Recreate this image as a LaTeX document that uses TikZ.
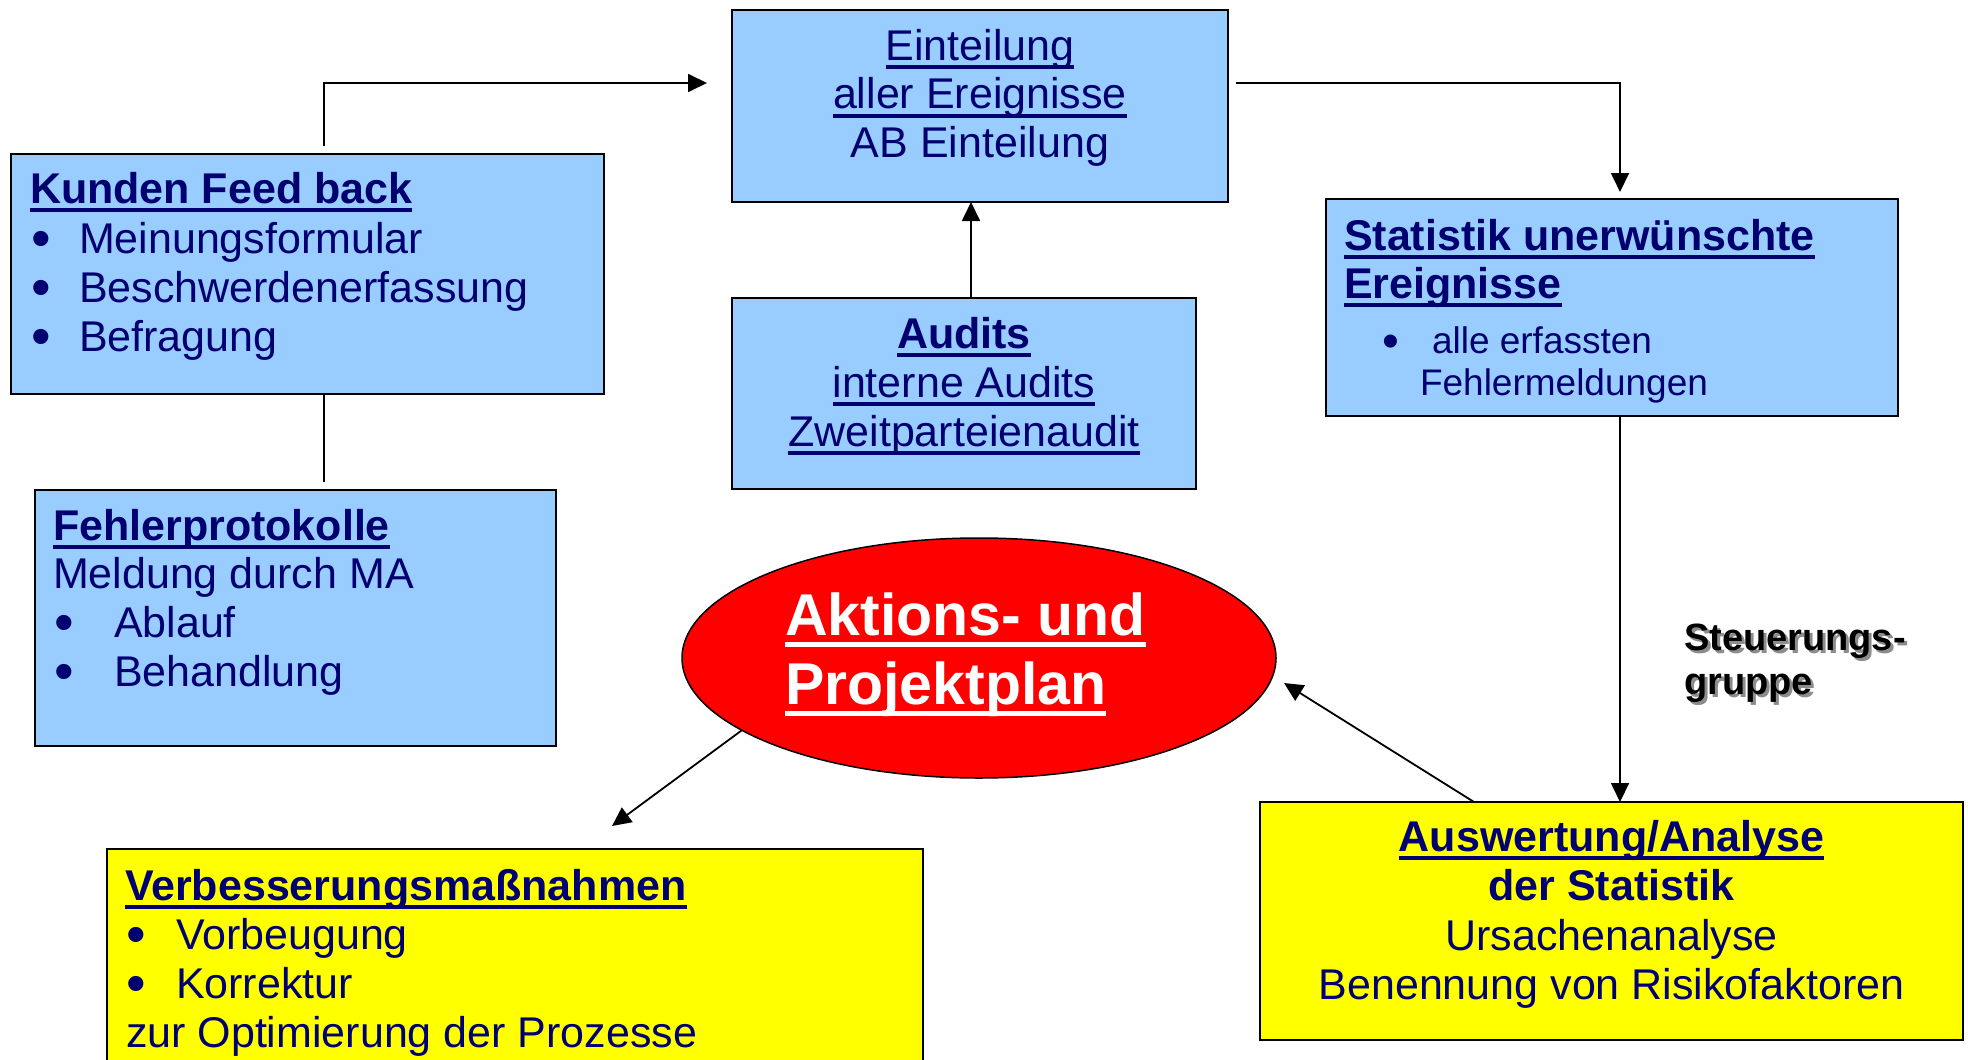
\documentclass[tikz,border=0pt]{standalone}
\usepackage{fontspec}
\setmainfont{Liberation Sans}
\usetikzlibrary{arrows.meta,shapes.geometric}
\definecolor{navy}{HTML}{000070}
\definecolor{boxblue}{HTML}{99CCFF}
\definecolor{boxyellow}{HTML}{FFFF00}
\definecolor{ellred}{HTML}{FF0000}
\newsavebox\ulbox
\newcommand\ulx[1]{\sbox\ulbox{#1}\rlap{\rule[-0.21em]{\wd\ulbox}{0.085em}}\usebox\ulbox}
\newcommand\bul[1]{\makebox[#1][l]{\smash{\raisebox{-0.11em}{\scalebox{1.3}{•}}}}}
\tikzset{
  bluebox/.style={draw=black, line width=2pt, fill=boxblue, inner sep=0pt, outer sep=0pt},
  yelbox/.style={draw=black, line width=2pt, fill=boxyellow, inner sep=0pt, outer sep=0pt},
  tl/.style={inner sep=0pt, outer sep=0pt, anchor=base west, text=navy, font=\fontsize{43pt}{49pt}\selectfont},
  tc/.style={tl, anchor=base},
  ts/.style={tl, font=\fontsize{37pt}{42pt}\selectfont},
  tw/.style={inner sep=0pt, outer sep=0pt, anchor=base west, text=white, font=\fontsize{59pt}{69pt}\selectfont\bfseries},
  tg/.style={inner sep=0pt, outer sep=0pt, anchor=base west, text=black, font=\fontsize{38pt}{44pt}\selectfont\bfseries},
  tgs/.style={tg, text=black!45},
  conn/.style={line width=1.8pt, draw=black},
  arr/.style={conn, -{Triangle[length=19pt,width=18pt]}},
}
\begin{document}
\begin{tikzpicture}[x=1pt,y=-1pt]
\path[use as bounding box, fill=white] (0,0) rectangle (1968,1060);

% boxes
\node[bluebox, minimum width=593pt, minimum height=240pt] (kunden) at (307.5,274) {};
\node[bluebox, minimum width=496pt, minimum height=192pt] (eint) at (980,106) {};
\node[bluebox, minimum width=464pt, minimum height=191pt] (audits) at (964,393.5) {};
\node[bluebox, minimum width=572pt, minimum height=217pt] (stat) at (1612,307.5) {};
\node[bluebox, minimum width=521pt, minimum height=256pt] (fehler) at (295.5,618) {};
\node[yelbox, minimum width=816pt, minimum height=231pt] (verb) at (515,964.5) {};
\node[yelbox, minimum width=703pt, minimum height=238pt] (ausw) at (1611.5,921) {};
\node[ellipse, draw=black, line width=1.5pt, fill=ellred, minimum width=594pt, minimum height=240pt, inner sep=0pt] (plan) at (979,658) {};

% Kunden Feed back
\node[tl] (k0) at (30,203) {\bfseries\ulx{Kunden Feed back}};
\node[tl] (k1) at (31,253) {\bul{48pt}Meinungsformular};
\node[tl] (k2) at (31,302) {\bul{48pt}Beschwerdenerfassung};
\node[tl] (k3) at (31,351) {\bul{48pt}Befragung};

% Einteilung
\node[tc] (e1) at (980,60) {\ulx{Einteilung}};
\node[tc] (e2) at (980,108.5) {\ulx{aller Ereignisse}};
\node[tc] (e3) at (980,157) {AB Einteilung};

% Audits
\node[tc] (au1) at (964,348) {\bfseries\ulx{Audits}};
\node[tc] (au2) at (964,397) {\ulx{interne Audits}};
\node[tc] (au3) at (964,446) {\ulx{Zweitparteienaudit}};

% Statistik
\node[tl] (s1) at (1344,250) {\bfseries\ulx{Statistik unerwünschte}};
\node[tl] (s2) at (1344,298) {\bfseries\ulx{Ereignisse}};
\node[ts] (s3) at (1382,353) {\bul{50pt}alle erfassten};
\node[ts] (s4) at (1420,395) {Fehlermeldungen};

% Fehlerprotokolle
\node[tl] (f1) at (53,540) {\bfseries\ulx{Fehlerprotokolle}};
\node[tl] (f2) at (53,588) {Meldung durch MA};
\node[tl] (f3) at (54,637) {\bul{60pt}Ablauf};
\node[tl] (f4) at (54,686) {\bul{60pt}Behandlung};

% Aktionsplan
\node[tw] (p1) at (785,635) {\ulx{Aktions- und}};
\node[tw] (p2) at (785,704) {\ulx{Projektplan}};

% Verbesserung
\node[tl] (v1) at (125,900) {\bfseries\ulx{Verbesserungsmaßnahmen}};
\node[tl] (v2) at (126,949) {\bul{50pt}Vorbeugung};
\node[tl] (v3) at (126,998) {\bul{50pt}Korrektur};
\node[tl] (v4) at (126,1047) {zur Optimierung der Prozesse};

% Auswertung
\node[tc] (w1) at (1611.5,851) {\bfseries\ulx{Auswertung/Analyse}};
\node[tc] (w2) at (1611.5,900) {\bfseries der Statistik};
\node[tc] (w3) at (1611.5,950) {Ursachenanalyse};
\node[tc] (w4) at (1611.5,999) {Benennung von Risikofaktoren};

% Steuerungsgruppe (with shadow)
\node[tgs] (g1s) at (1687,653) {Steuerungs-};
\node[tgs] (g2s) at (1687,697) {gruppe};
\node[tg] (g1) at (1684,650) {Steuerungs-};
\node[tg] (g2) at (1684,694) {gruppe};

% connectors
\coordinate (t1) at (707,83);
\coordinate (t6) at (1284,683);
\coordinate (t7) at (612,826);
\draw[arr] ([xshift=16.5pt,yshift=8pt]kunden.north) |- (t1);
\draw[arr] ([xshift=8pt,yshift=23pt]eint.east) -| ([xshift=8pt,yshift=7pt]stat.north);
\draw[arr] ([xshift=7pt]audits.north) -- ([xshift=-9pt]eint.south);
\draw[conn] ([xshift=16.5pt]kunden.south) -- ([xshift=28.5pt,yshift=8pt]fehler.north);
\draw[arr] ([xshift=8pt]stat.south) -- ([xshift=8.5pt]ausw.north);
\draw[arr] ([xshift=-137.5pt]ausw.north) -- (t6);
\draw[arr] (plan.197) -- (t7);
\end{tikzpicture}
\end{document}
